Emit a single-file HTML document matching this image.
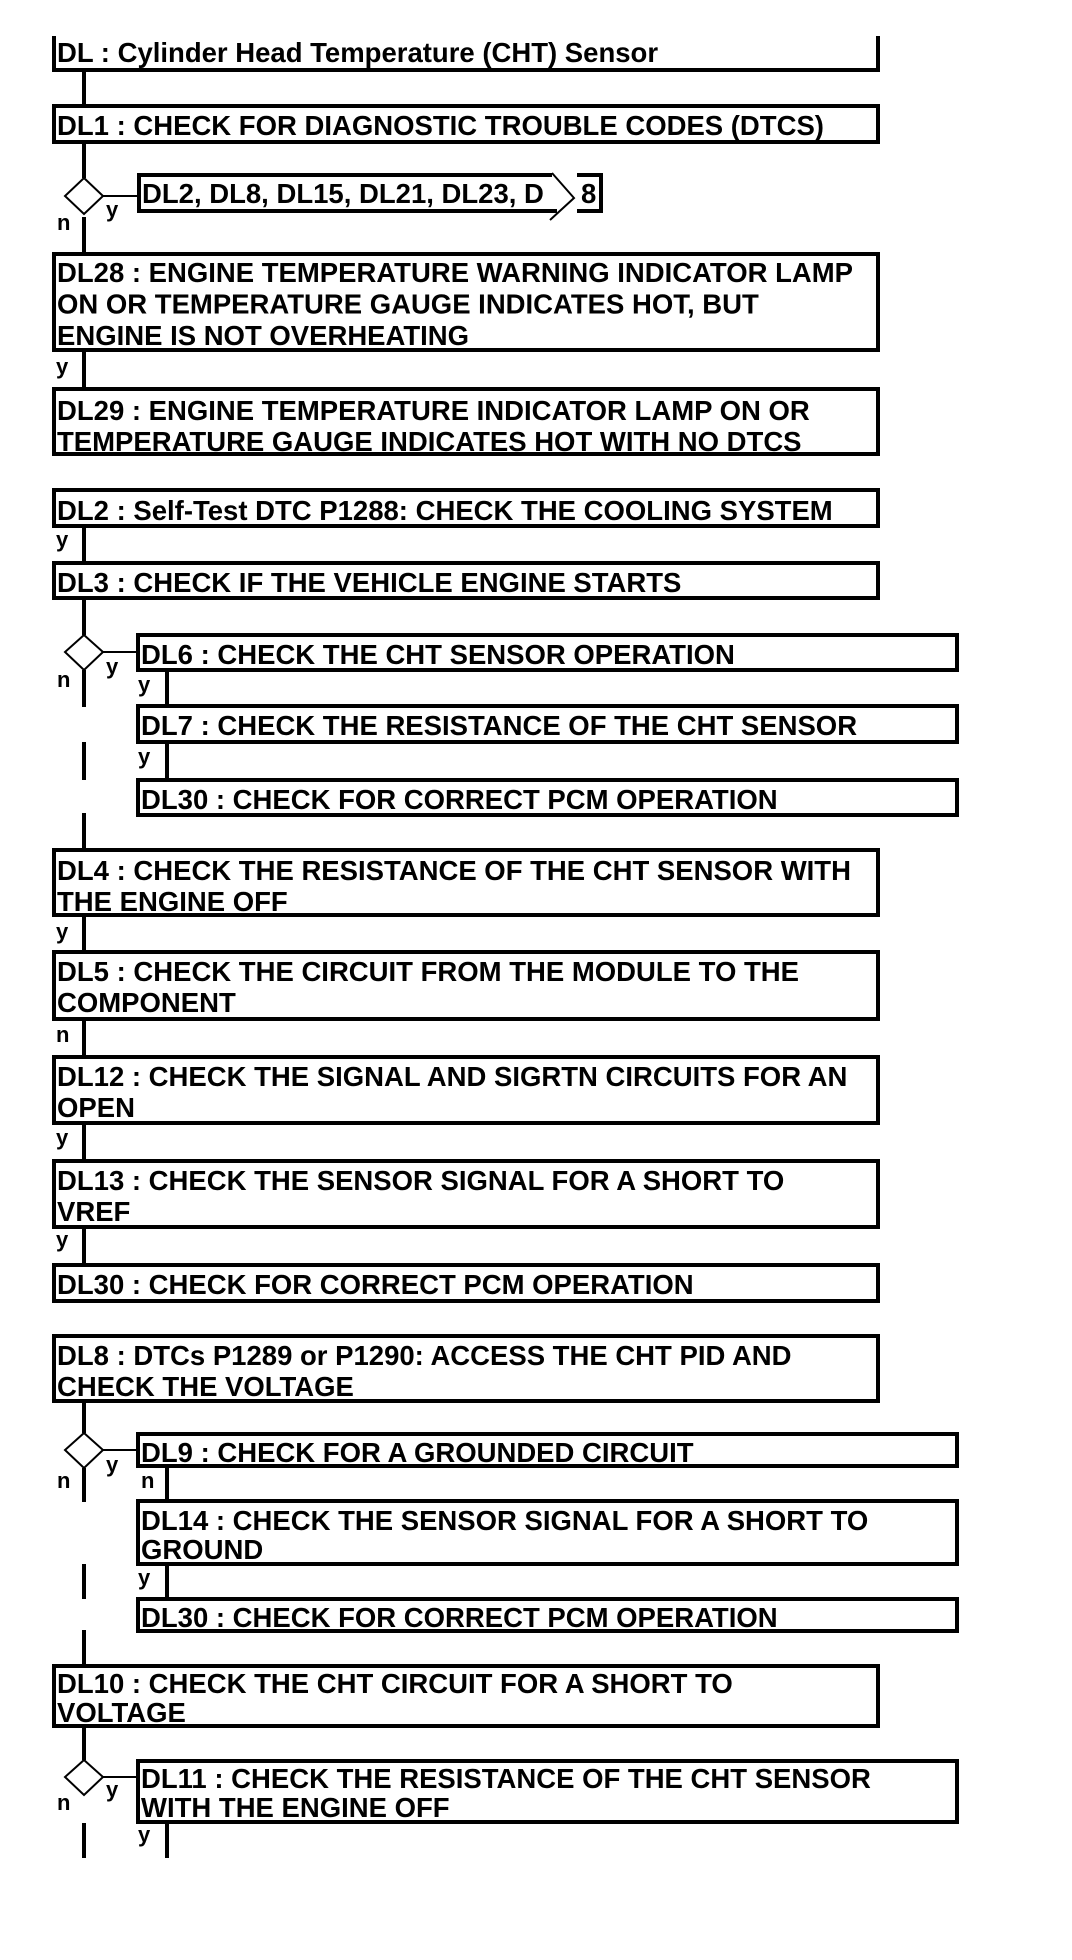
<!DOCTYPE html>
<html><head><meta charset="utf-8"><style>
html,body{margin:0;padding:0;background:#fff;}
svg{display:block;}
text{font-family:"Liberation Sans",Arial,sans-serif;font-weight:bold;fill:#000;}
.t{font-size:27.5px;}
.l{font-size:22px;}
</style></head><body>
<svg width="1072" height="1960" viewBox="0 0 1072 1960" xmlns="http://www.w3.org/2000/svg">
<g fill="none" stroke="#000" stroke-width="4">
<!-- title box open top -->
<path d="M54 36 V70 H878 V36"/>
<rect x="54" y="106" width="824" height="36"/>
<rect x="54" y="254" width="824" height="96"/>
<rect x="54" y="389" width="824" height="65"/>
<rect x="54" y="490" width="824" height="36"/>
<rect x="54" y="563" width="824" height="35"/>
<rect x="138" y="635" width="819" height="35"/>
<rect x="138" y="706" width="819" height="36"/>
<rect x="138" y="780" width="819" height="35"/>
<rect x="54" y="850" width="824" height="65"/>
<rect x="54" y="952" width="824" height="67"/>
<rect x="54" y="1057" width="824" height="66"/>
<rect x="54" y="1161" width="824" height="66"/>
<rect x="54" y="1265" width="824" height="36"/>
<rect x="54" y="1336" width="824" height="65"/>
<rect x="138" y="1434" width="819" height="32"/>
<rect x="138" y="1501" width="819" height="63"/>
<rect x="138" y="1599" width="819" height="32"/>
<rect x="54" y="1666" width="824" height="60"/>
<rect x="138" y="1761" width="819" height="61"/>
<!-- DL2 list box with chevron gap -->
<path d="M552 175 H139 V211 H557"/>
<path d="M577 175 H601 V211 H577"/>
</g>
<g fill="none" stroke="#000" stroke-width="2">
<path d="M552 173 L574 198 L550 220"/>
<!-- diamonds -->
<path d="M84 178 L103 196 L84 214 L65 196 Z"/>
<path d="M84 635 L103 652 L84 670 L65 652 Z"/>
<path d="M84 1433 L103 1450 L84 1468 L65 1450 Z"/>
<path d="M84 1760 L103 1777 L84 1795 L65 1777 Z"/>
<!-- horizontal connectors -->
<path d="M103 196 H137"/>
<path d="M103 652 H136"/>
<path d="M103 1450 H136"/>
<path d="M103 1777 H136"/>
</g>
<g stroke="#000" stroke-width="4" fill="none">
<path d="M84 72 V104 M84 144 V178 M84 217 V252 M84 352 V387 M84 528 V561 M84 600 V635 M84 670 V707 M84 742 V780 M84 813 V848 M84 917 V950 M84 1021 V1055 M84 1125 V1159 M84 1229 V1263 M84 1403 V1433 M84 1468 V1502 M84 1564 V1599 M84 1630 V1664 M84 1728 V1760 M84 1823 V1858"/>
<path d="M167 672 V704 M167 744 V778 M167 1468 V1499 M167 1566 V1597 M167 1824 V1858"/>
</g>
<g class="t">
<text x="57" y="62">DL : Cylinder Head Temperature (CHT) Sensor</text>
<text x="57" y="135">DL1 : CHECK FOR DIAGNOSTIC TROUBLE CODES (DTCS)</text>
<text x="142" y="203">DL2, DL8, DL15, DL21, DL23, D</text>
<text x="581" y="203">8</text>
<text x="57" y="282">DL28 : ENGINE TEMPERATURE WARNING INDICATOR LAMP</text>
<text x="57" y="313.5">ON OR TEMPERATURE GAUGE INDICATES HOT, BUT</text>
<text x="57" y="345">ENGINE IS NOT OVERHEATING</text>
<text x="57" y="420">DL29 : ENGINE TEMPERATURE INDICATOR LAMP ON OR</text>
<text x="57" y="451">TEMPERATURE GAUGE INDICATES HOT WITH NO DTCS</text>
<text x="57" y="520">DL2 : Self-Test DTC P1288: CHECK THE COOLING SYSTEM</text>
<text x="57" y="592">DL3 : CHECK IF THE VEHICLE ENGINE STARTS</text>
<text x="141" y="664">DL6 : CHECK THE CHT SENSOR OPERATION</text>
<text x="141" y="735">DL7 : CHECK THE RESISTANCE OF THE CHT SENSOR</text>
<text x="141" y="809">DL30 : CHECK FOR CORRECT PCM OPERATION</text>
<text x="57" y="880">DL4 : CHECK THE RESISTANCE OF THE CHT SENSOR WITH</text>
<text x="57" y="911">THE ENGINE OFF</text>
<text x="57" y="981">DL5 : CHECK THE CIRCUIT FROM THE MODULE TO THE</text>
<text x="57" y="1012">COMPONENT</text>
<text x="57" y="1086">DL12 : CHECK THE SIGNAL AND SIGRTN CIRCUITS FOR AN</text>
<text x="57" y="1117">OPEN</text>
<text x="57" y="1190">DL13 : CHECK THE SENSOR SIGNAL FOR A SHORT TO</text>
<text x="57" y="1221">VREF</text>
<text x="57" y="1294">DL30 : CHECK FOR CORRECT PCM OPERATION</text>
<text x="57" y="1365">DL8 : DTCs P1289 or P1290: ACCESS THE CHT PID AND</text>
<text x="57" y="1396">CHECK THE VOLTAGE</text>
<text x="141" y="1462">DL9 : CHECK FOR A GROUNDED CIRCUIT</text>
<text x="141" y="1530">DL14 : CHECK THE SENSOR SIGNAL FOR A SHORT TO</text>
<text x="141" y="1559">GROUND</text>
<text x="141" y="1627">DL30 : CHECK FOR CORRECT PCM OPERATION</text>
<text x="57" y="1693">DL10 : CHECK THE CHT CIRCUIT FOR A SHORT TO</text>
<text x="57" y="1722">VOLTAGE</text>
<text x="141" y="1788">DL11 : CHECK THE RESISTANCE OF THE CHT SENSOR</text>
<text x="141" y="1817">WITH THE ENGINE OFF</text>
</g>
<g class="l">
<text x="106" y="217">y</text>
<text x="57" y="230">n</text>
<text x="56" y="374">y</text>
<text x="56" y="547">y</text>
<text x="106" y="674">y</text>
<text x="57" y="687">n</text>
<text x="138" y="692">y</text>
<text x="138" y="764">y</text>
<text x="56" y="939">y</text>
<text x="56" y="1042">n</text>
<text x="56" y="1145">y</text>
<text x="56" y="1247">y</text>
<text x="106" y="1472">y</text>
<text x="57" y="1488">n</text>
<text x="141" y="1488">n</text>
<text x="138" y="1585">y</text>
<text x="106" y="1797">y</text>
<text x="57" y="1810">n</text>
<text x="138" y="1842">y</text>
</g>
</svg>
</body></html>
